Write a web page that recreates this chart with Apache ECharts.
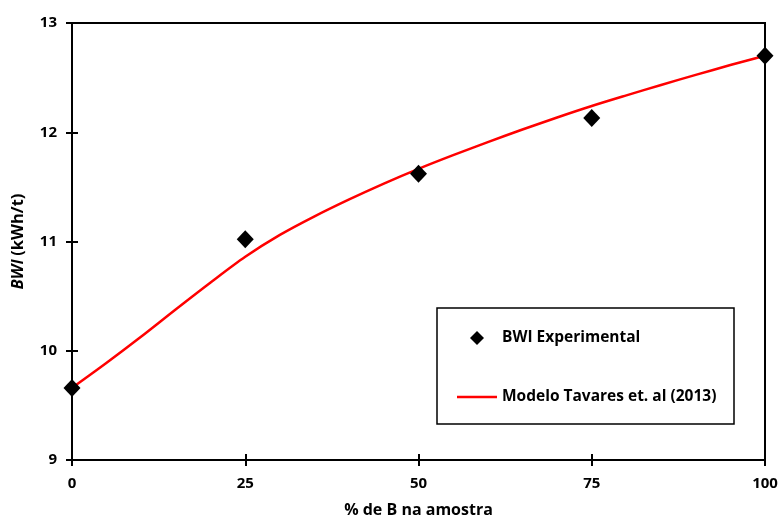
<!DOCTYPE html>
<html><head><meta charset="utf-8">
<script src="https://cdn.jsdelivr.net/npm/echarts@6/dist/echarts.min.js"></script>
<style>html,body{margin:0;padding:0;background:#fff}#c{width:782px;height:520px}</style>
</head><body><div id="c"></div>
<script>
const expX = [0, 25, 50, 75, 100];
const expY = [9.66, 11.02, 11.62, 12.13, 12.70];
const modelX = [0, 5, 10, 15, 20, 25, 30, 35, 40, 45, 50, 55, 60, 65, 70, 75, 80, 85, 90, 95, 100];
const modelY = [9.66, 9.89, 10.13, 10.38, 10.625, 10.86, 11.06, 11.23, 11.385, 11.53, 11.665, 11.79, 11.91, 12.025, 12.135, 12.24, 12.3375, 12.4325, 12.525, 12.615, 12.70];
const xTicks = [0, 25, 50, 75, 100];
const yTicks = [9, 10, 11, 12, 13];

const FONT = 'Open Sans';
const chart = echarts.init(document.getElementById('c'), null, {renderer: 'canvas'});
const lbl = {color: '#000', fontFamily: FONT, fontWeight: 'bold', fontSize: 15};
const baseX = {type: 'value', min: 0, max: 100, interval: 25, position: 'bottom',
  axisLine: {lineStyle: {color: '#000', width: 2}}, splitLine: {show: false}};
const baseY = {type: 'value', min: 9, max: 13, interval: 1, position: 'left',
  axisLine: {lineStyle: {color: '#000', width: 2}}, splitLine: {show: false}};
chart.setOption({
  animation: false,
  grid: {left: 72, right: 17, top: 23, bottom: 60, show: true, borderColor: '#000', borderWidth: 2,
    containLabel: false, outerBoundsMode: 'none'},
  xAxis: [
    Object.assign({}, baseX, {
      axisTick: {show: true, inside: false, length: 6, lineStyle: {color: '#000', width: 2}},
      axisLabel: Object.assign({margin: 16, formatter: v => xTicks.includes(v) ? String(v) : ''}, lbl),
      name: '% de B na amostra', nameLocation: 'middle', nameGap: 42,
      nameTextStyle: Object.assign({}, lbl, {fontSize: 16})
    }),
    Object.assign({}, baseX, {
      axisTick: {show: true, inside: true, length: 6, lineStyle: {color: '#000', width: 2}},
      axisLabel: {show: false}
    })
  ],
  yAxis: [
    Object.assign({}, baseY, {
      axisTick: {show: true, inside: false, length: 6, lineStyle: {color: '#000', width: 2}},
      axisLabel: Object.assign({margin: 15, formatter: v => yTicks.includes(v) ? String(v) : ''}, lbl),
      name: '{i|BWI} {n|(kWh/t)}', nameLocation: 'middle', nameGap: 45, nameRotate: 90,
      nameTextStyle: {rich: {
        i: {fontFamily: FONT, fontWeight: 'bold', fontStyle: 'italic', fontSize: 16.5, color: '#000'},
        n: {fontFamily: FONT, fontWeight: 'bold', fontSize: 16.5, color: '#000'}
      }}
    }),
    Object.assign({}, baseY, {
      axisTick: {show: true, inside: true, length: 6, lineStyle: {color: '#000', width: 2}},
      axisLabel: {show: false}
    })
  ],
  legend: {
    orient: 'vertical', left: 457, top: 330, padding: 0, itemWidth: 40, itemHeight: 14, itemGap: 43,
    symbolKeepAspect: true,
    textStyle: Object.assign({}, lbl, {fontSize: 15.5, padding: [0, 0, 0, 0]}),
    data: [
      {name: 'BWI Experimental', icon: 'path://M0,-1L1,0L0,1L-1,0Z', itemStyle: {color: '#000', opacity: 1}},
      {name: 'Modelo Tavares et. al (2013)', icon: 'path://M0,0L40,0L40,2.5L0,2.5Z', itemStyle: {color: '#ff0000'}}
    ]
  },
  graphic: [{type: 'rect', shape: {x: 437, y: 308, width: 297, height: 116},
    style: {fill: 'none', stroke: '#000', lineWidth: 1.5}, z: 10}],
  series: [
    {name: 'Modelo Tavares et. al (2013)', type: 'line', smooth: 0.3, showSymbol: false, symbol: 'none',
      data: modelX.map((x, i) => [x, modelY[i]]),
      lineStyle: {color: '#ff0000', width: 2.5}, itemStyle: {color: '#ff0000'}, z: 2},
    {name: 'BWI Experimental', type: 'scatter', symbol: 'diamond', symbolSize: [17, 18],
      data: expX.map((x, i) => [x, expY[i]]),
      itemStyle: {color: '#000', opacity: 1}, z: 3}
  ]
});
</script></body></html>
